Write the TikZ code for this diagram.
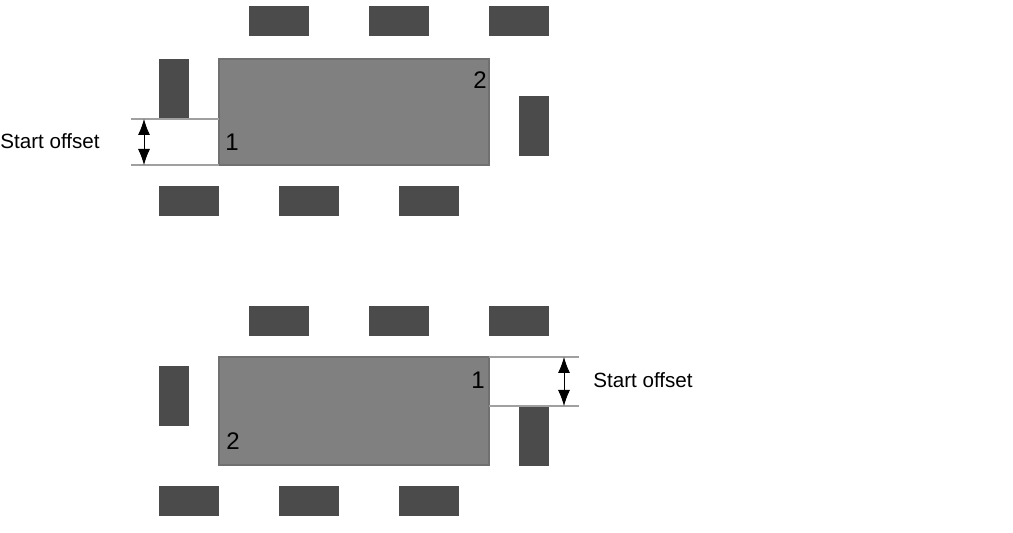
\documentclass[tikz,border=0pt]{standalone}
\usepackage{fontspec}
\setmainfont{Liberation Sans}
\usetikzlibrary{arrows.meta}
\definecolor{gristable}{RGB}{128,128,128}
\definecolor{bordtable}{RGB}{112,112,112}
\definecolor{grischaise}{RGB}{75,75,75}
\definecolor{grisrepere}{RGB}{160,160,160}
\begin{document}
\begin{tikzpicture}[x=0.5pt,y=-0.5pt]
% Styles
\tikzstyle{table}=[fill=gristable,draw=bordtable,line width=0.6pt]
\tikzstyle{chaise}=[fill=grischaise]
\tikzstyle{repere}=[draw=grisrepere,line width=0.6pt]
\tikzstyle{fleche}=[{Latex[length=8pt,width=6pt]}-{Latex[length=8pt,width=6pt]},line width=0.4pt]
\tikzstyle{texte}=[font=\fontsize{10.3}{12}\selectfont,inner sep=0pt]
\tikzstyle{numero}=[font=\fontsize{12}{14}\selectfont,inner sep=0pt]
% Dimensions
\def\Lrg{60}
\def\Ht{30}
% Cadre
\useasboundingbox (0,0) rectangle (1013,533);
% Table du haut
\draw[table] (219,59) rectangle (489,165);
\fill[chaise] (249,6) rectangle ++(\Lrg,\Ht);
\fill[chaise] (369,6) rectangle ++(\Lrg,\Ht);
\fill[chaise] (489,6) rectangle ++(\Lrg,\Ht);
\fill[chaise] (159,186) rectangle ++(\Lrg,\Ht);
\fill[chaise] (279,186) rectangle ++(\Lrg,\Ht);
\fill[chaise] (399,186) rectangle ++(\Lrg,\Ht);
\fill[chaise] (159,59) rectangle ++(\Ht,\Lrg);
\fill[chaise] (519,96) rectangle ++(\Ht,\Lrg);
\node[numero] (un1) at (232,142) {1};
\node[numero] (deux1) at (480,80) {2};
% Decalage du haut
\draw[repere] (131,119) -- (219,119);
\draw[repere] (131,165) -- (219,165);
\coordinate (h1) at (144,119);
\coordinate (b1) at (144,165);
\draw[fleche] (h1) -- (b1);
\node[texte,anchor=west] (dec1) at (0,141) {Start offset};
% Table du bas
\draw[table] (219,357) rectangle (489,465);
\fill[chaise] (249,306) rectangle ++(\Lrg,\Ht);
\fill[chaise] (369,306) rectangle ++(\Lrg,\Ht);
\fill[chaise] (489,306) rectangle ++(\Lrg,\Ht);
\fill[chaise] (159,486) rectangle ++(\Lrg,\Ht);
\fill[chaise] (279,486) rectangle ++(\Lrg,\Ht);
\fill[chaise] (399,486) rectangle ++(\Lrg,\Ht);
\fill[chaise] (159,366) rectangle ++(\Ht,\Lrg);
\fill[chaise] (519,406) rectangle ++(\Ht,\Lrg);
\node[numero] (un2) at (478,380) {1};
\node[numero] (deux2) at (233,441) {2};
% Decalage du bas
\draw[repere] (489,357) -- (579,357);
\draw[repere] (489,406) -- (579,406);
\coordinate (h2) at (564,357);
\coordinate (b2) at (564,406);
\draw[fleche] (h2) -- (b2);
\node[texte,anchor=west] (dec2) at (593,380) {Start offset};
\end{tikzpicture}
\end{document}
